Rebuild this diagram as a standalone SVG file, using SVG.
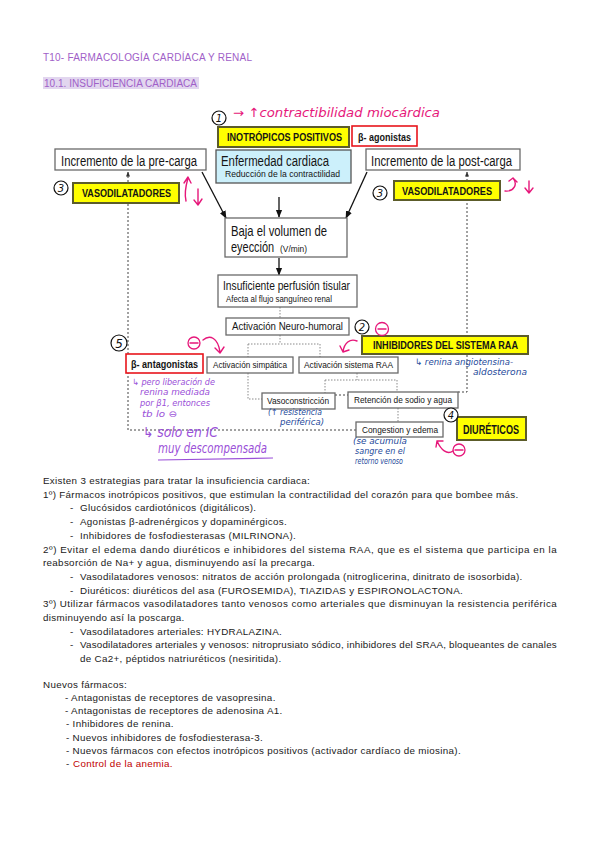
<svg xmlns="http://www.w3.org/2000/svg" width="600" height="848" viewBox="0 0 600 848">
<defs>
<marker id="ah" viewBox="0 0 10 10" refX="9" refY="5" markerWidth="6" markerHeight="6" orient="auto"><path d="M0,1 L10,5 L0,9 z" fill="#111"/></marker>
<marker id="ahd" viewBox="0 0 10 10" refX="9" refY="5" markerWidth="5" markerHeight="5" orient="auto"><path d="M0,1 L10,5 L0,9 z" fill="#333"/></marker>
</defs>
<style>
.box{fill:#fff;stroke:#6a6a6a;stroke-width:1.3}
.yel{fill:#ffff00;stroke:#5c5c2a;stroke-width:2}
.red{fill:#fff;stroke:#e8141c;stroke-width:1.6}
.t{font-family:"Liberation Sans",Arial,sans-serif;fill:#151515}
.b{font-weight:bold}
.body{font-family:"Liberation Sans",Arial,sans-serif;font-size:9.8px;letter-spacing:0.32px;fill:#1a1a1a}
.hw{font-family:"DejaVu Sans",sans-serif;font-style:italic}
.pk{fill:#e6177a}
.pu{fill:#9a4fd8}
.bl{fill:#1e4a9a}
.solid{stroke:#111;stroke-width:1.3;fill:none}
.dot{stroke:#8a8a8a;stroke-width:1;fill:none;stroke-dasharray:1.5 1.5}
.dash{stroke:#444;stroke-width:1;fill:none;stroke-dasharray:2 2}
.pkl{stroke:#e6177a;stroke-width:1.4;fill:none;stroke-linecap:round;stroke-linejoin:round}
.cir{fill:#fff;stroke:#111;stroke-width:1.2}
.pcir{fill:none;stroke:#e6177a;stroke-width:1.3}
</style>

<g id="header">
<text class="t" x="43" y="61" font-size="10" style="fill:#a060c8" textLength="209">T10- FARMACOLOGÍA CARDÍACA Y RENAL</text>
<rect x="43" y="77" width="156" height="12" fill="#e2d6ef"/>
<text class="t" x="44" y="87" font-size="10" style="fill:#a060c8" textLength="153">10.1. INSUFICIENCIA CARDIACA</text>
</g>

<g id="connectors">
<line class="solid" x1="202" y1="172" x2="226" y2="218" marker-end="url(#ah)"/>
<line class="solid" x1="367" y1="172" x2="346" y2="218" marker-end="url(#ah)"/>
<line class="solid" x1="279" y1="197" x2="279" y2="217" marker-end="url(#ah)"/>
<line class="solid" x1="279" y1="258" x2="279" y2="275" marker-end="url(#ah)"/>
<path class="dot" d="M280,307 V318 M280,335 V344 M248,344 H320 M248,344 V357 M320,344 V357 M248,373 V399 H262 M357,373 V380 M325,380 H397 M325,380 V393 M397,380 V392 M398,408 V422"/>
<path class="dash" d="M356,430 H128 V172" marker-end="url(#ahd)"/>
<path class="dash" d="M458,392 H467 V172" marker-end="url(#ahd)"/>
<path class="dash" d="M335,395 H348"/>
</g>

<g id="inotropicos">
<rect class="yel" x="218" y="127" width="131" height="20"/>
<text class="t b" transform="translate(227,141) scale(0.79,1)" font-size="11.5">INOTRÓPICOS POSITIVOS</text>
</g>
<g id="beta-agonistas">
<rect class="red" x="352" y="126" width="65" height="20"/>
<text class="t b" x="358" y="141" font-size="11" textLength="53" lengthAdjust="spacingAndGlyphs">β- agonistas</text>
</g>
<g id="precarga">
<rect class="box" x="55" y="149" width="151" height="21"/>
<text class="t" x="61" y="166" font-size="14" textLength="136" lengthAdjust="spacingAndGlyphs">Incremento de la pre-carga</text>
</g>
<g id="enfermedad">
<rect x="216" y="150" width="135" height="33" fill="#ccf0fb" stroke="#555" stroke-width="1.3"/>
<text class="t" x="221" y="166" font-size="14" textLength="108" lengthAdjust="spacingAndGlyphs">Enfermedad cardiaca</text>
<text class="t" x="225" y="177" font-size="8.5" textLength="115" lengthAdjust="spacingAndGlyphs">Reducción de la contractilidad</text>
</g>
<g id="postcarga">
<rect class="box" x="366" y="149" width="154" height="21"/>
<text class="t" x="371" y="166" font-size="14" textLength="141" lengthAdjust="spacingAndGlyphs">Incremento de la post-carga</text>
</g>
<g id="vasodilatadores-izq">
<rect class="yel" x="73" y="183" width="106" height="20"/>
<text class="t b" x="82" y="197" font-size="11.5" textLength="89" lengthAdjust="spacingAndGlyphs">VASODILATADORES</text>
</g>
<g id="vasodilatadores-der">
<rect class="yel" x="394" y="181" width="106" height="19"/>
<text class="t b" x="402" y="195" font-size="11.5" textLength="90" lengthAdjust="spacingAndGlyphs">VASODILATADORES</text>
</g>
<g id="baja-volumen">
<rect class="box" x="225" y="218" width="122" height="39"/>
<text class="t" x="231" y="236" font-size="15" textLength="96" lengthAdjust="spacingAndGlyphs">Baja el volumen de</text>
<text class="t" transform="translate(231,252) scale(0.73,1)" font-size="15">eyección</text>
<text class="t" x="280" y="252" font-size="9.5" textLength="27" lengthAdjust="spacingAndGlyphs">(V/min)</text>
</g>
<g id="insuficiente">
<rect class="box" x="218" y="275" width="139" height="32"/>
<text class="t" x="223" y="290" font-size="13.5" textLength="127" lengthAdjust="spacingAndGlyphs">Insuficiente perfusión tisular</text>
<text class="t" x="226" y="302" font-size="9" textLength="106" lengthAdjust="spacingAndGlyphs">Afecta al flujo sanguíneo renal</text>
</g>
<g id="neurohumoral">
<rect class="box" x="226" y="318" width="123" height="17"/>
<text class="t" x="232" y="330" font-size="11" textLength="111" lengthAdjust="spacingAndGlyphs">Activación Neuro-humoral</text>
</g>
<g id="inhibidores-raa">
<rect class="yel" x="362" y="336" width="166" height="18"/>
<text class="t b" x="373" y="349" font-size="11.5" textLength="145" lengthAdjust="spacingAndGlyphs">INHIBIDORES DEL SISTEMA RAA</text>
</g>
<g id="beta-antagonistas">
<rect class="red" x="126" y="354" width="77" height="19"/>
<text class="t b" x="131" y="368" font-size="11.5" textLength="67" lengthAdjust="spacingAndGlyphs">β- antagonistas</text>
</g>
<g id="simpatica">
<rect class="box" x="207" y="357" width="86" height="16"/>
<text class="t" x="213" y="368" font-size="9.5" textLength="74" lengthAdjust="spacingAndGlyphs">Activación simpática</text>
</g>
<g id="raa">
<rect class="box" x="299" y="357" width="99" height="16"/>
<text class="t" x="304" y="368" font-size="9.5" textLength="89" lengthAdjust="spacingAndGlyphs">Activación sistema RAA</text>
</g>
<g id="vasoconstriccion">
<rect class="box" x="262" y="393" width="73" height="16"/>
<text class="t" x="267" y="404" font-size="9.5" textLength="62" lengthAdjust="spacingAndGlyphs">Vasoconstricción</text>
</g>
<g id="retencion">
<rect class="box" x="348" y="392" width="110" height="16"/>
<text class="t" x="354" y="403" font-size="9.5" textLength="98" lengthAdjust="spacingAndGlyphs">Retención de sodio y agua</text>
</g>
<g id="congestion">
<rect class="box" x="356" y="422" width="87" height="15"/>
<text class="t" x="362" y="433" font-size="9.5" textLength="76" lengthAdjust="spacingAndGlyphs">Congestion y edema</text>
</g>
<g id="diureticos">
<rect class="yel" x="457" y="417" width="69" height="23"/>
<text class="t b" x="463" y="434" font-size="12.5" textLength="56" lengthAdjust="spacingAndGlyphs">DIURÉTICOS</text>
</g>

<g id="anotaciones">
<circle class="cir" cx="219" cy="118" r="7"/><text class="hw" x="219" y="122" font-size="10" text-anchor="middle" fill="#111">1</text>
<text class="hw pk" x="233" y="117" font-size="12.5" textLength="207" lengthAdjust="spacingAndGlyphs">→ ↑contractibilidad miocárdica</text>
<circle class="cir" cx="61" cy="188" r="7"/><text class="hw" x="61" y="192" font-size="10" text-anchor="middle" fill="#111">3</text>
<circle class="cir" cx="380" cy="193" r="7"/><text class="hw" x="380" y="197" font-size="10" text-anchor="middle" fill="#111">3</text>
<circle class="cir" cx="362" cy="327" r="7"/><text class="hw" x="362" y="331" font-size="10" text-anchor="middle" fill="#111">2</text>
<circle class="cir" cx="119" cy="343" r="8"/><text class="hw" x="119" y="347.5" font-size="12" text-anchor="middle" fill="#111">5</text>
<circle class="cir" cx="451" cy="415" r="7"/><text class="hw" x="451" y="419" font-size="10" text-anchor="middle" fill="#111">4</text>
<circle class="pcir" cx="382" cy="329" r="6.5"/><path class="pkl" d="M378,329 H386"/>
<circle class="pcir" cx="194" cy="343" r="6"/><path class="pkl" d="M190,343 H198"/>
<circle class="pcir" cx="459" cy="450" r="6"/><path class="pkl" d="M455,450 H463"/>
<path class="pkl" d="M186,201 C184,193 186,185 188,178 M184,183 L188,177 L191,183"/>
<path class="pkl" d="M198,189 V205 M194,200 L198,205 L202,199"/>
<path class="pkl" d="M505,191 C514,192 518,184 513,178 M509,181 L513,178 L517,182"/>
<path class="pkl" d="M529,181 V193 M525,188 L529,193 L533,188"/>
<path class="pkl" d="M203,340 C210,334 218,338 220,352 M215,348 L220,353 L224,347"/>
<path class="pkl" d="M357,341 C350,338 344,343 343,352 M340,346 L343,352 L349,350"/>
<path class="pkl" d="M453,451 C447,455 441,450 437,441 M436,447 L437,441 L443,441"/>
<text class="hw bl" x="415" y="365" font-size="9" textLength="98" lengthAdjust="spacingAndGlyphs">↳ renina angiotensina-</text>
<text class="hw bl" x="473" y="375" font-size="9" textLength="54" lengthAdjust="spacingAndGlyphs">aldosterona</text>
<text class="hw pu" x="132" y="385" font-size="8.5" textLength="83" lengthAdjust="spacingAndGlyphs">↳ pero liberación de</text>
<text class="hw pu" x="140" y="395" font-size="8.5" textLength="70" lengthAdjust="spacingAndGlyphs">renina mediada</text>
<text class="hw pu" x="140" y="406" font-size="8.5" textLength="70" lengthAdjust="spacingAndGlyphs">por β1, entonces</text>
<text class="hw pu" x="142" y="417" font-size="8.5" textLength="35" lengthAdjust="spacingAndGlyphs">tb lo ⊖</text>
<text class="hw pu" x="143" y="437" font-size="14" textLength="75" lengthAdjust="spacingAndGlyphs">↳ solo en IC</text>
<text class="hw pu" x="158" y="453" font-size="14" textLength="109" lengthAdjust="spacingAndGlyphs">muy descompensada</text>
<path d="M158,460 L273,458" stroke="#9a4fd8" stroke-width="1.2" fill="none"/>
<text class="hw bl" x="268" y="415" font-size="8.5" textLength="54" lengthAdjust="spacingAndGlyphs">(↑ resistencia</text>
<text class="hw bl" x="280" y="425" font-size="8.5" textLength="44" lengthAdjust="spacingAndGlyphs">periférica)</text>
<text class="hw bl" x="353" y="444" font-size="8.5" textLength="54" lengthAdjust="spacingAndGlyphs">(se acumula</text>
<text class="hw bl" x="355" y="454" font-size="8.5" textLength="50" lengthAdjust="spacingAndGlyphs">sangre en el</text>
<text class="hw bl" x="355" y="464" font-size="8.5" textLength="48" lengthAdjust="spacingAndGlyphs">retorno venoso</text>
</g>

<g id="texto">
<text class="body" x="43" y="484">Existen 3 estrategias para tratar la insuficiencia cardiaca:</text>
<text class="body" x="43" y="497.7">1º) Fármacos inotrópicos positivos, que estimulan la contractilidad del corazón para que bombee más.</text>
<text class="body" x="70" y="511.4">-</text><text class="body" x="80" y="511.4">Glucósidos cardiotónicos (digitálicos).</text>
<text class="body" x="70" y="525.1">-</text><text class="body" x="80" y="525.1">Agonistas β-adrenérgicos y dopaminérgicos.</text>
<text class="body" x="70" y="538.8">-</text><text class="body" x="80" y="538.8">Inhibidores de fosfodiesterasas (MILRINONA).</text>
<text class="body" x="43" y="552.5" textLength="514">2º) Evitar el edema dando diuréticos e inhibidores del sistema RAA, que es el sistema que participa en la</text>
<text class="body" x="43" y="566.2">reabsorción de Na+ y agua, disminuyendo así la precarga.</text>
<text class="body" x="70" y="579.9">-</text><text class="body" x="80" y="579.9">Vasodilatadores venosos: nitratos de acción prolongada (nitroglicerina, dinitrato de isosorbida).</text>
<text class="body" x="70" y="593.6">-</text><text class="body" x="80" y="593.6">Diuréticos: diuréticos del asa (FUROSEMIDA), TIAZIDAS y ESPIRONOLACTONA.</text>
<text class="body" x="43" y="607.3" textLength="514">3º) Utilizar fármacos vasodilatadores tanto venosos como arteriales que disminuyan la resistencia periférica</text>
<text class="body" x="43" y="621">disminuyendo así la poscarga.</text>
<text class="body" x="70" y="634.7">-</text><text class="body" x="80" y="634.7">Vasodilatadores arteriales: HYDRALAZINA.</text>
<text class="body" x="70" y="648.4">-</text><text class="body" x="80" y="648.4" textLength="477">Vasodilatadores arteriales y venosos: nitroprusiato sódico, inhibidores del SRAA, bloqueantes de canales</text>
<text class="body" x="80" y="662.1">de Ca2+, péptidos natriuréticos (nesiritida).</text>
<text class="body" x="43" y="687.5">Nuevos fármacos:</text>
<text class="body" x="65" y="700.8">- Antagonistas de receptores de vasopresina.</text>
<text class="body" x="65" y="714.1">- Antagonistas de receptores de adenosina A1.</text>
<text class="body" x="66" y="727.4">- Inhibidores de renina.</text>
<text class="body" x="66" y="740.7">- Nuevos inhibidores de fosfodiesterasa-3.</text>
<text class="body" x="66" y="754">- Nuevos fármacos con efectos inotrópicos positivos (activador cardíaco de miosina).</text>
<text class="body" x="66" y="767.3">-</text><text class="body" x="73" y="767.3" style="fill:#c00000">Control de la anemia.</text>
</g>
</svg>
